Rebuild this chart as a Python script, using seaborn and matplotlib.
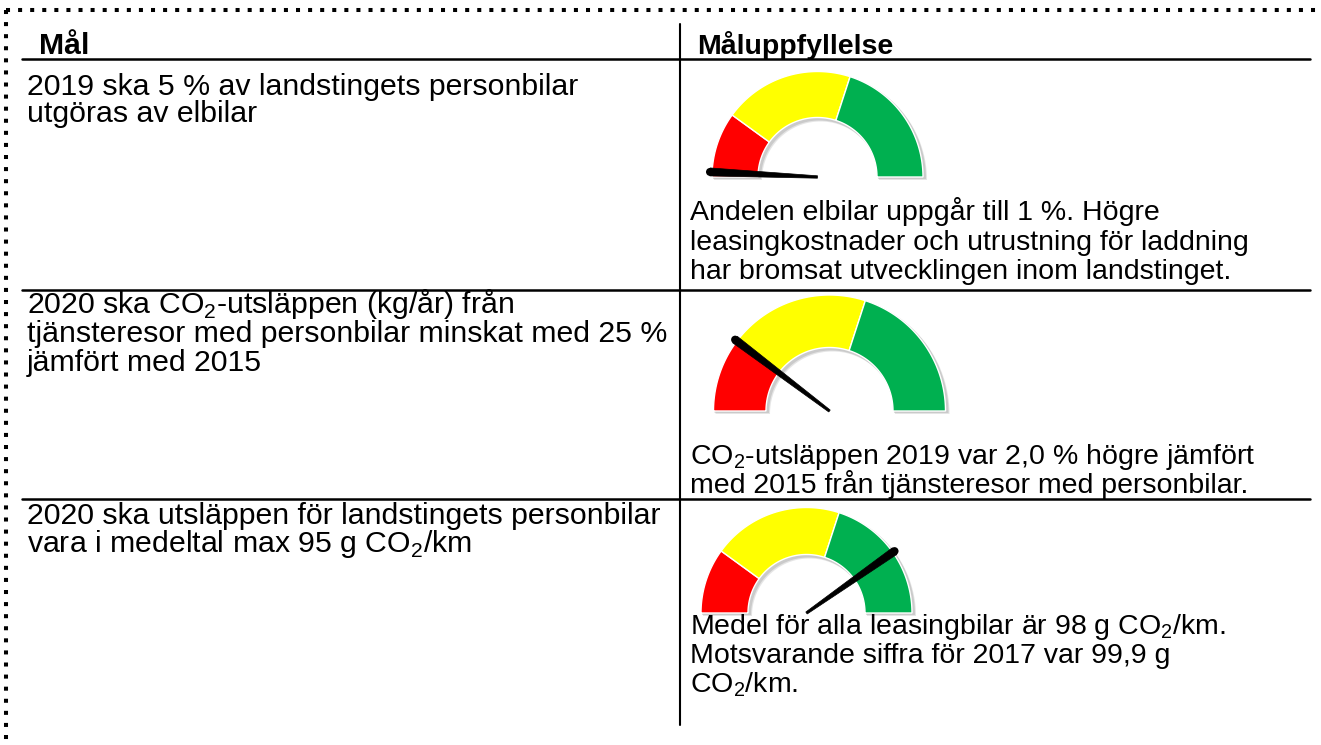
import numpy as np
import matplotlib
matplotlib.use("Agg")
import matplotlib.pyplot as plt
from matplotlib.patches import Polygon, Circle
import seaborn as sns

# ---------------- data ----------------
header_left = "Mål"
header_right = "Måluppfyllelse"

goal_row1 = ["2019 ska 5 % av landstingets personbilar", "utgöras av elbilar"]
goal_row2 = ["2020 ska CO$_\\mathregular{2}$-utsläppen (kg/år) från",
             "tjänsteresor med personbilar minskat med 25 %",
             "jämfört med 2015"]
goal_row3 = ["2020 ska utsläppen för landstingets personbilar",
             "vara i medeltal max 95 g CO$_\\mathregular{2}$/km"]

outcome_row1 = ["Andelen elbilar uppgår till 1 %. Högre",
                "leasingkostnader och utrustning för laddning",
                "har bromsat utvecklingen inom landstinget."]
outcome_row2 = ["CO$_\\mathregular{2}$-utsläppen 2019 var 2,0 % högre jämfört",
                "med 2015 från tjänsteresor med personbilar."]
outcome_row3 = ["Medel för alla leasingbilar är 98 g CO$_\\mathregular{2}$/km.",
                "Motsvarande siffra för 2017 var 99,9 g",
                "CO$_\\mathregular{2}$/km."]

zone_bounds = [0.0, 0.2, 0.6, 1.0]          # red / yellow / green zones (share of scale)
zone_colors = ["#FF0000", "#FFFF00", "#00B050"]
needle_values = [0.015, 0.206, 0.805]       # needle position (share of scale)

# ---------------- layout (pixels) ----------------
W, H = 1321, 745
FS_R = 20.5
FS_L = 21.8
gauge_geom = [(817.5, 177, 105.5, 59.5),
              (829.5, 411, 116.0, 63.5),
              (806.5, 613, 105.5, 58.5)]
left_base = [[95, 122], [313, 342, 371], [524, 552]]
right_base = [[220, 250, 279], [464, 493], [634, 663, 692]]

sns.set_theme(style="white")
plt.rcParams["font.family"] = ["Liberation Sans", "DejaVu Sans"]
plt.rcParams["mathtext.fontset"] = "custom"
plt.rcParams["mathtext.rm"] = "Liberation Sans"
plt.rcParams["text.color"] = "black"
palette = sns.color_palette(zone_colors)

fig = plt.figure(figsize=(W / 100, H / 100), dpi=100)
fig.patch.set_facecolor("white")
ax = fig.add_axes([0, 0, 1, 1])
ax.set_xlim(0, W)
ax.set_ylim(H, 0)
ax.axis("off")

# dotted page border
dot = dict(color="black", lw=2.9, linestyle=(0, (1, 2)), dash_capstyle="butt")
ax.plot([6, W], [10, 10], **dot)
ax.plot([6, 6], [10, H], **dot)

# table lines
ax.plot([680, 680], [24, 725], color="black", lw=1.5)
for yy in [58.5, 290, 499]:
    ax.plot([22, 1310], [yy, yy], color="black", lw=1.8)

# headers
ax.text(39, 54, header_left, fontsize=FS_L, fontweight="bold", va="baseline", ha="left", color="black")
ax.text(697, 54, header_right, fontsize=FS_R, fontweight="bold", va="baseline", ha="left", color="black")

# text cells
for lines, bases in zip([goal_row1, goal_row2, goal_row3], left_base):
    for s, b in zip(lines, bases):
        ax.text(27, b, s, fontsize=FS_L, va="baseline", ha="left", color="black")
for lines, bases in zip([outcome_row1, outcome_row2, outcome_row3], right_base):
    for s, b in zip(lines, bases):
        ax.text(690, b, s, fontsize=FS_R, va="baseline", ha="left", color="black")


def arc_pts(cx, cy, r, f0, f1, n=80):
    th = np.radians(180 - 180 * np.linspace(f0, f1, n))
    return np.column_stack([cx + r * np.cos(th), cy - r * np.sin(th)])


def annulus(cx, cy, r_in, r_out, f0, f1):
    return np.vstack([arc_pts(cx, cy, r_out, f0, f1), arc_pts(cx, cy, r_in, f1, f0)])


for (cx, cy, R, r), val in zip(gauge_geom, needle_values):
    # soft shadow
    for dx, dy, a in [(3, 3, 0.25), (2, 2, 0.35)]:
        ax.add_patch(Polygon(annulus(cx + dx, cy + dy, r - 1, R + 1, 0, 1), closed=True,
                             facecolor="#9a9a9a", edgecolor="none", alpha=a, zorder=2))
    for i in range(len(zone_bounds) - 1):
        ax.add_patch(Polygon(annulus(cx, cy, r, R, zone_bounds[i], zone_bounds[i + 1]),
                             closed=True, facecolor=palette[i], edgecolor="white",
                             lw=1.0, zorder=3))
    # needle
    th = np.radians(180 - 180 * val)
    u = np.array([np.cos(th), -np.sin(th)])
    p = np.array([-u[1], u[0]])
    c = np.array([cx, cy])
    tip = c + u * R * 1.02
    w0, w1 = 1.2, 4.0
    pts = [c + p * w0, tip + p * w1, tip - p * w1, c - p * w0]
    ax.add_patch(Polygon(pts, closed=True, facecolor="black", edgecolor="black",
                         lw=0.5, zorder=5))
    ax.add_patch(Circle(tip, w1, facecolor="black", edgecolor="none", zorder=5))

fig.savefig("out.png", dpi=100, facecolor="white")
